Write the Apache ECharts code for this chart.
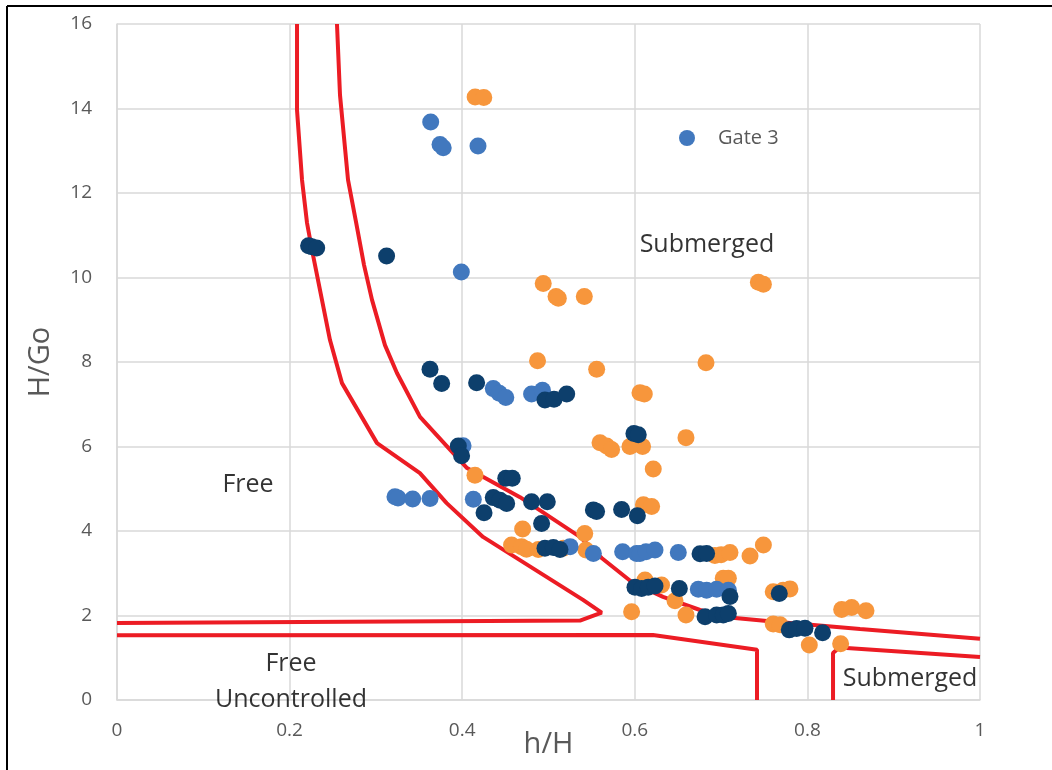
<!DOCTYPE html>
<html>
<head>
<meta charset="utf-8">
<title>H/Go vs h/H</title>
<script src="https://cdn.jsdelivr.net/npm/echarts@6/dist/echarts.min.js"></script>
<style>
  html, body { margin: 0; padding: 0; background: #ffffff; }
  #chart { width: 1052px; height: 770px; }
</style>
</head>
<body>
<div id="chart"></div>
<script>
// Axis ticks
const xTicks = [0, 0.2, 0.4, 0.6, 0.8, 1];
const yTicks = [0, 2, 4, 6, 8, 10, 12, 14, 16];

// Measured points [h/H, H/Go]
const gate1 = [
  [0.222, 10.75], [0.2256, 10.73], [0.2314, 10.70], [0.3124, 10.51],
  [0.3627, 7.83], [0.3762, 7.49], [0.4167, 7.51], [0.4959, 7.10], [0.5064, 7.12], [0.5211, 7.24],
  [0.599, 6.31], [0.604, 6.28],
  [0.3955, 6.01], [0.3993, 5.78], [0.4505, 5.25], [0.458, 5.25],
  [0.436, 4.79], [0.4438, 4.73], [0.4515, 4.65], [0.4253, 4.43], [0.4804, 4.69], [0.4986, 4.69], [0.492, 4.18],
  [0.552, 4.50], [0.5557, 4.46], [0.5847, 4.51], [0.603, 4.36],
  [0.4959, 3.59], [0.5056, 3.61], [0.5133, 3.56],
  [0.6756, 3.46], [0.6832, 3.47],
  [0.6002, 2.67], [0.6079, 2.64], [0.6156, 2.67], [0.6234, 2.70], [0.6516, 2.64], [0.7103, 2.45],
  [0.6814, 1.97], [0.6948, 2.01], [0.7025, 2.01], [0.7084, 2.05],
  [0.7674, 2.52], [0.779, 1.66], [0.7875, 1.69], [0.7972, 1.70], [0.8176, 1.59]
];

const gate2 = [
  [0.415, 14.27], [0.425, 14.26],
  [0.4939, 9.86], [0.5087, 9.55], [0.5114, 9.51], [0.5415, 9.55], [0.7432, 9.89], [0.749, 9.84],
  [0.4873, 8.03], [0.5558, 7.83], [0.6825, 7.98], [0.606, 7.27], [0.611, 7.24],
  [0.5597, 6.09], [0.5674, 6.01], [0.5731, 5.93], [0.5944, 6.00], [0.609, 6.00], [0.6593, 6.21], [0.6214, 5.47],
  [0.4148, 5.32], [0.61, 4.62], [0.6195, 4.58],
  [0.47, 4.05], [0.4572, 3.67], [0.4687, 3.63], [0.4745, 3.57], [0.4882, 3.56], [0.5172, 3.59], [0.542, 3.94], [0.5434, 3.55],
  [0.6928, 3.42], [0.70, 3.44], [0.7103, 3.49], [0.7335, 3.41], [0.749, 3.67],
  [0.6118, 2.84], [0.631, 2.72], [0.6466, 2.35], [0.7025, 2.88], [0.7084, 2.88],
  [0.5963, 2.09], [0.6593, 2.01],
  [0.7604, 2.56], [0.7718, 2.60], [0.7798, 2.63],
  [0.7604, 1.80], [0.7683, 1.78], [0.8022, 1.30], [0.8385, 1.33],
  [0.8397, 2.14], [0.8513, 2.19], [0.8679, 2.11]
];

const gate3 = [
  [0.3635, 13.68], [0.3743, 13.15], [0.378, 13.07], [0.4183, 13.11], [0.399, 10.13],
  [0.436, 7.37], [0.443, 7.26], [0.4505, 7.16], [0.4804, 7.24], [0.493, 7.33],
  [0.401, 6.02],
  [0.3221, 4.81], [0.3256, 4.78], [0.3426, 4.76], [0.3627, 4.77], [0.4129, 4.75],
  [0.525, 3.63], [0.552, 3.47], [0.5859, 3.51], [0.602, 3.47], [0.606, 3.47], [0.613, 3.51], [0.6234, 3.55], [0.6504, 3.49],
  [0.6736, 2.62], [0.6832, 2.60], [0.6948, 2.62], [0.7084, 2.60]
];

// Flow regime boundaries
const freeLimit = [
  [0.2086, 16], [0.2086, 13.96], [0.2144, 12.31], [0.2202, 11.29], [0.226, 10.65], [0.2375, 9.47],
  [0.2468, 8.52], [0.2607, 7.50], [0.3013, 6.08], [0.351, 5.37], [0.382, 4.66], [0.4241, 3.86],
  [0.54, 2.37], [0.5616, 2.07], [0.5365, 1.88], [0, 1.82]
];
const submergedLimit = [
  [0.2549, 16], [0.2584, 14.32], [0.2677, 12.31], [0.277, 11.31], [0.2862, 10.30], [0.2955, 9.47],
  [0.3105, 8.40], [0.3244, 7.74], [0.3511, 6.70], [0.3893, 5.85], [0.4056, 5.49], [0.467, 4.80],
  [0.5365, 3.86], [0.5616, 3.36], [0.5979, 2.77], [0.6327, 2.44], [0.6756, 2.13], [0.7068, 1.96],
  [0.7532, 1.87], [0.861, 1.68], [1.0, 1.45]
];
const uncontrolledLimit = [[0, 1.53], [0.621, 1.54], [0.7416, 1.19], [0.7416, 0]];
const submergedLowLimit = [[0.8297, 0], [0.8297, 1.11], [0.837, 1.24], [1.0, 1.02]];

// Region labels [h/H, H/Go, text]
const regionLabels = [
  [0.6836, 10.78, 'Submerged'],
  [0.1518, 5.08, 'Free'],
  [0.2016, 0.85, 'Free'],
  [0.2016, 0.0, 'Uncontrolled'],
  [0.919, 0.5, 'Submerged']
];

const FONT = 'Open Sans';
const GRAY = '#595959';
const GRID = '#d9d9d9';
const RED = '#ec1c24';

const chart = echarts.init(document.getElementById('chart'), null, { renderer: 'canvas' });

function boundary(data) {
  return {
    type: 'line', data: data, showSymbol: false, symbol: 'none', silent: true,
    lineStyle: { color: RED, width: 4 }, z: 1, animation: false
  };
}

function dots(name, data, color, z) {
  return {
    name: name, type: 'scatter', data: data, symbol: 'circle', symbolSize: 17,
    itemStyle: { color: color, opacity: 1 }, z: z, animation: false
  };
}

chart.setOption({
  animation: false,
  backgroundColor: '#ffffff',
  grid: { left: 117, right: 72, top: 24, bottom: 70, outerBoundsMode: 'none' },
  xAxis: {
    type: 'value', min: xTicks[0], max: xTicks[xTicks.length - 1], interval: 0.2,
    name: 'h/H', nameLocation: 'middle', nameGap: 30, nameMoveOverlap: false,
    nameTextStyle: { color: GRAY, fontSize: 29, fontFamily: FONT },
    axisLine: { show: true, lineStyle: { color: GRID, width: 1.5 } },
    axisTick: { show: false },
    splitLine: { show: true, lineStyle: { color: GRID, width: 1.5 } },
    axisLabel: { color: GRAY, fontSize: 19, fontFamily: FONT, margin: 21,
      formatter: v => String(+v.toFixed(1)) }
  },
  yAxis: {
    type: 'value', min: yTicks[0], max: yTicks[yTicks.length - 1], interval: 2,
    name: 'H/Go', nameLocation: 'middle', nameGap: 62, nameRotate: 90, nameMoveOverlap: false,
    nameTextStyle: { color: GRAY, fontSize: 29, fontFamily: FONT },
    axisLine: { show: true, lineStyle: { color: GRID, width: 1.5 } },
    axisTick: { show: false },
    splitLine: { show: true, lineStyle: { color: GRID, width: 1.5 } },
    axisLabel: { color: GRAY, fontSize: 19, fontFamily: FONT, margin: 25 }
  },
  legend: {
    data: [{ name: 'Gate 3', icon: 'circle' }],
    left: 674, top: 123, itemWidth: 16, itemHeight: 16,
    textStyle: { color: GRAY, fontSize: 20, fontFamily: FONT, padding: [0, 0, 0, 18] },
    selectedMode: false
  },
  series: [
    boundary(freeLimit),
    boundary(submergedLimit),
    boundary(uncontrolledLimit),
    boundary(submergedLowLimit),
    dots('Gate 2', gate2, '#f7963c', 3),
    dots('Gate 3', gate3, '#4178be', 4),
    dots('Gate 1', gate1, '#0d3f6c', 5),
    {
      type: 'scatter', silent: true, symbolSize: 0, z: 6,
      data: regionLabels.map(r => ({ value: [r[0], r[1]], name: r[2] })),
      label: {
        show: true, position: 'inside', formatter: p => p.name,
        color: '#000000', fontSize: 25, fontFamily: FONT
      }
    }
  ],
  graphic: [
    { type: 'line', shape: { x1: 7, y1: 6, x2: 1052, y2: 6 }, style: { stroke: '#000', lineWidth: 2 }, z: 10 },
    { type: 'line', shape: { x1: 7, y1: 6, x2: 7, y2: 770 }, style: { stroke: '#000', lineWidth: 2 }, z: 10 }
  ]
});
</script>
</body>
</html>
